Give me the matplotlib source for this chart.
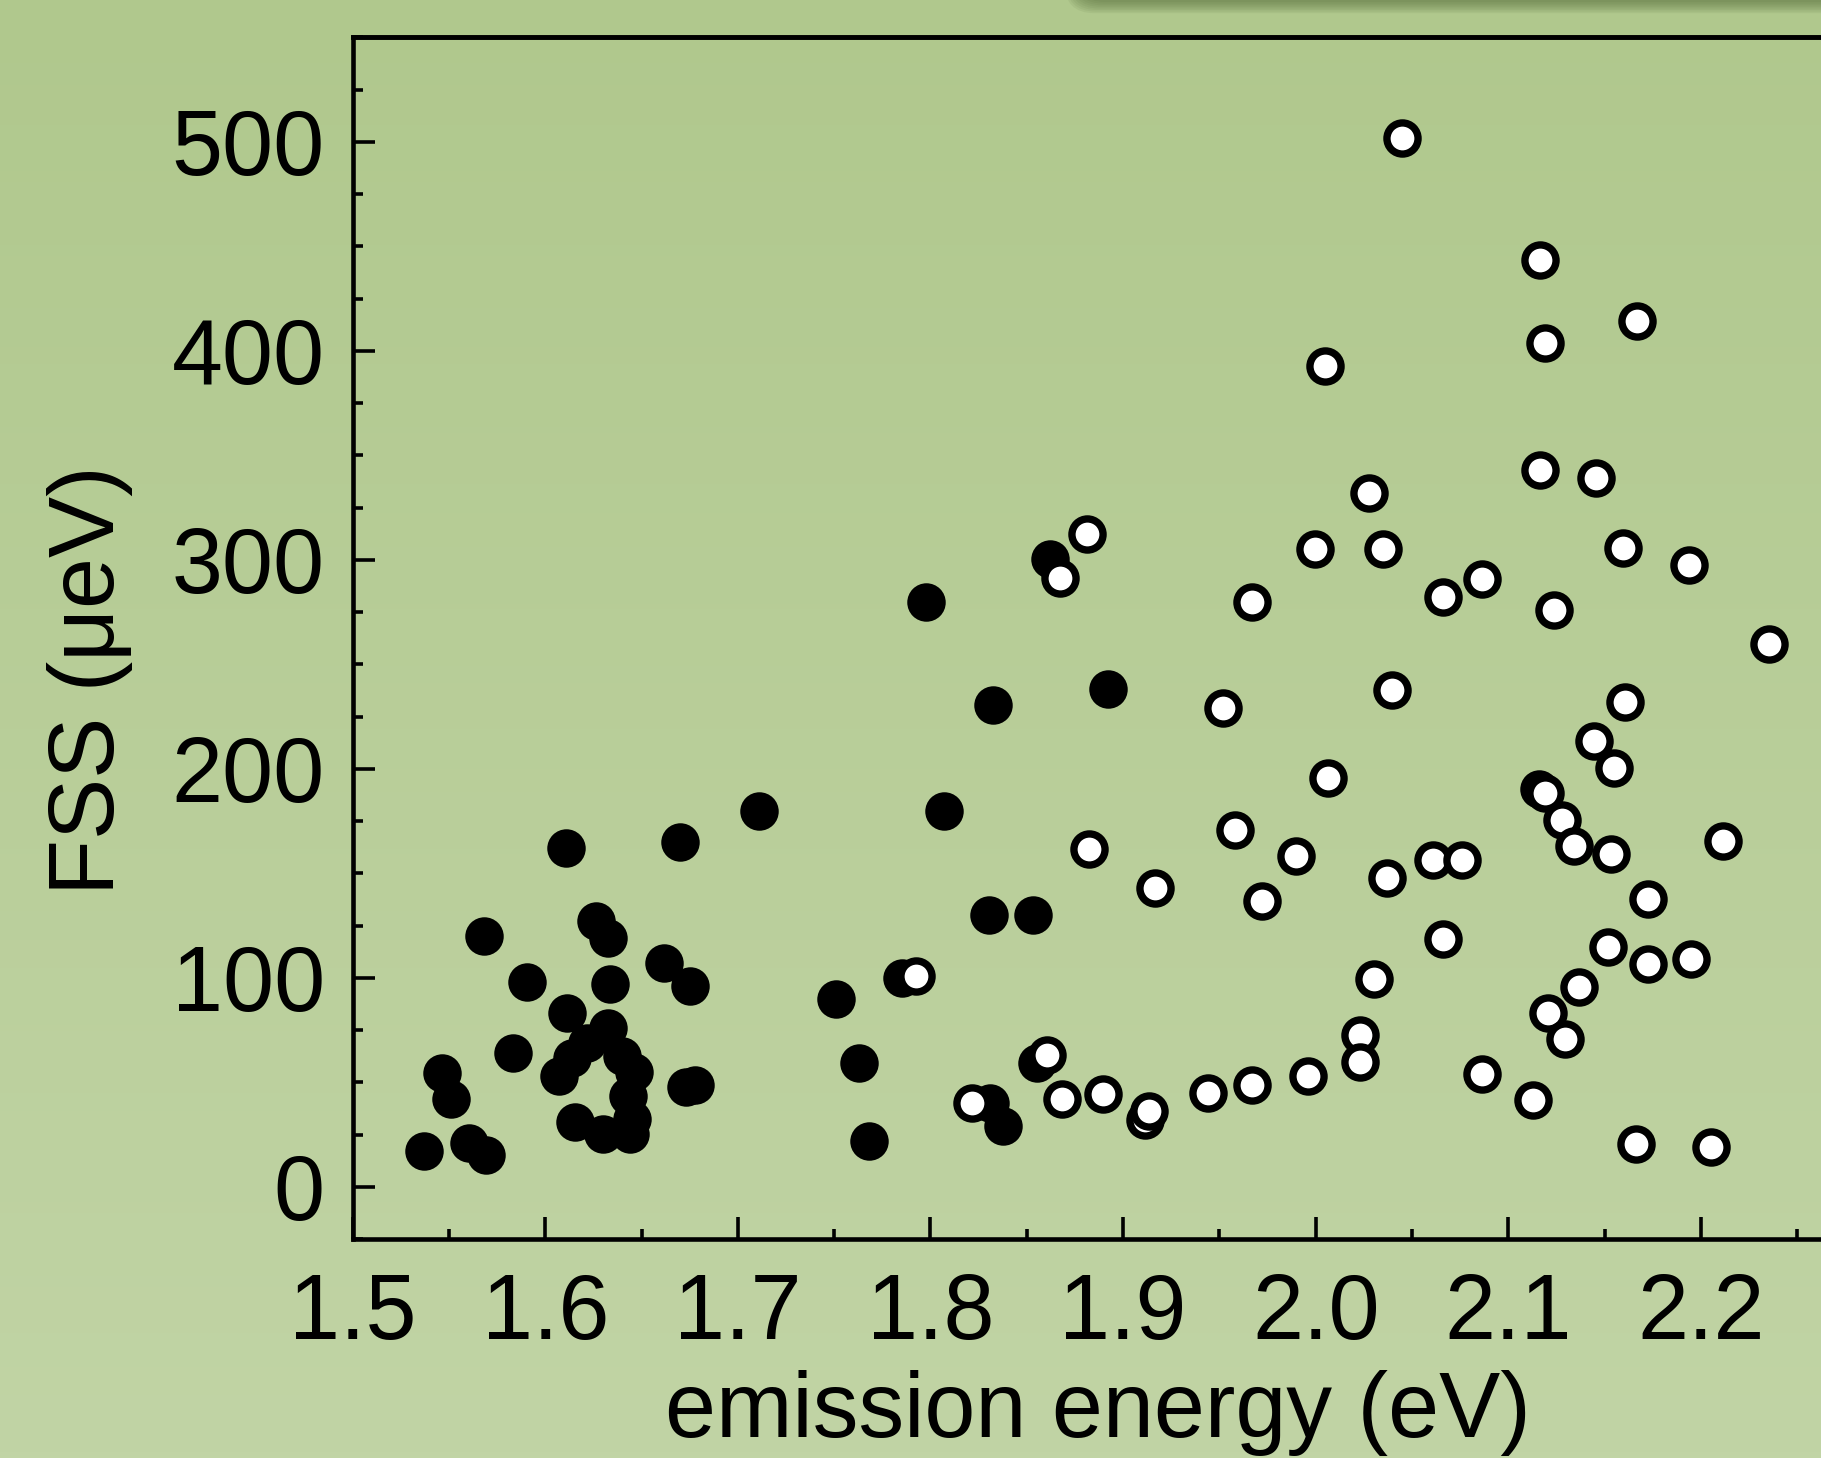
import numpy as np
import matplotlib
matplotlib.use("Agg")
from matplotlib import pyplot as plt
from matplotlib.patches import FancyBboxPatch
from matplotlib.ticker import MultipleLocator

# filled circles: (emission energy in eV, FSS in ueV)
filled_x = [1.5370, 1.5462, 1.5510, 1.5605, 1.5692, 1.5683, 1.5834, 1.5907,
            1.6108, 1.6113, 1.6073, 1.6137, 1.6215, 1.6263, 1.6324, 1.6334,
            1.6324, 1.6397, 1.6461, 1.6431, 1.6449, 1.6440, 1.6301, 1.6154,
            1.6618, 1.6701, 1.6750, 1.6731, 1.6777, 1.7111, 1.7509, 1.7629,
            1.7682, 1.7851, 1.7977, 1.8072, 1.8323, 1.8302, 1.8530, 1.8309,
            1.8378, 1.8551, 1.8621, 1.8923, 2.1161]
filled_y = [17.1, 54.3, 41.9, 21.1, 15.1, 120.2, 64.2, 98.0,
            162.1, 83.2, 53.0, 61.8, 69.0, 127.2, 119.2, 97.2,
            76.2, 62.6, 55.1, 43.4, 32.3, 25.1, 25.1, 31.0,
            107.3, 165.2, 96.1, 47.9, 49.0, 180.1, 89.9, 59.1,
            21.9, 100.1, 280.0, 180.1, 230.4, 130.0, 130.0, 40.3,
            29.1, 59.4, 300.6, 238.4, 190.2]

# open circles
open_x = [1.7923, 1.8214, 1.8603, 1.8681, 1.8672, 1.8811, 1.8825, 1.8897,
          1.9114, 1.9136, 1.9166, 1.9442, 1.9520, 1.9583, 1.9671, 1.9671,
          1.9721, 1.9896, 1.9962, 1.9998, 2.0048, 2.0065, 2.0231, 2.0231,
          2.0278, 2.0303, 2.0351, 2.0369, 2.0395, 2.0450, 2.0607, 2.0659,
          2.0659, 2.0761, 2.0862, 2.0862, 2.1126, 2.1165, 2.1165, 2.1191,
          2.1191, 2.1205, 2.1239, 2.1280, 2.1294, 2.1341, 2.1367, 2.1445,
          2.1454, 2.1519, 2.1533, 2.1549, 2.1594, 2.1606, 2.1662, 2.1670,
          2.1724, 2.1724, 2.1938, 2.1949, 2.2052, 2.2116, 2.2355]
open_y = [100.9, 40.0, 62.9, 42.2, 291.5, 312.5, 161.8, 44.3,
          32.0, 36.3, 143.2, 44.7, 229.3, 170.6, 280.0, 49.0,
          136.7, 158.3, 53.0, 305.0, 392.7, 195.8, 72.5, 59.7,
          331.8, 99.3, 305.0, 147.9, 238.0, 502.0, 156.4, 282.2,
          118.8, 156.4, 290.7, 53.8, 41.4, 443.4, 343.0, 403.6,
          188.3, 83.3, 276.0, 175.8, 70.6, 163.1, 95.8, 213.3,
          339.0, 114.7, 159.1, 200.6, 305.5, 231.8, 20.7, 414.3,
          138.0, 106.5, 297.5, 108.9, 19.2, 165.5, 259.9]

x_ticks = [1.5, 1.6, 1.7, 1.8, 1.9, 2.0, 2.1, 2.2]
x_ticklabels = ["1.5", "1.6", "1.7", "1.8", "1.9", "2.0", "2.1", "2.2"]
y_ticks = [0, 100, 200, 300, 400, 500]

plt.rcParams['font.family'] = ['Liberation Sans', 'DejaVu Sans']

W, H = 1821, 1458
fig = plt.figure(figsize=(W / 100, H / 100), dpi=100)

# green gradient background
bg = fig.add_axes([0, 0, 1, 1], zorder=-5)
top_c = np.array([176, 200, 141]) / 255
bot_c = np.array([193, 212, 165]) / 255
t = np.linspace(0, 1, 256)[:, None]
grad = (top_c[None, :] * (1 - t) + bot_c[None, :] * t)[:, None, :]
bg.imshow(grad, aspect='auto', extent=[0, W, H, 0])
# soft shadow of a box above the figure (top right)
for k in range(8):
    bg.add_patch(FancyBboxPatch((1075 - k * 1.5, -120), 900, 122 + k * 1.6,
                                boxstyle="round,pad=0,rounding_size=30",
                                facecolor=(0.33, 0.42, 0.22), edgecolor='none',
                                alpha=0.09))
bg.set_xlim(0, W)
bg.set_ylim(H, 0)
bg.axis('off')

ax = fig.add_axes([0.19368, 0.1501, 0.8180, 0.8242])
ax.set_facecolor('none')

ax.plot(filled_x, filled_y, 'o', ms=27.7, mfc='black', mec='black', mew=0,
        clip_on=False, zorder=3)
ax.plot(open_x, open_y, 'o', ms=22.4, mfc='white', mec='black', mew=5.3,
        clip_on=False, zorder=4)

ax.set_xlim(1.5, 2.2734)
ax.set_ylim(-25, 550)

ax.set_xticks(x_ticks)
ax.set_xticklabels(x_ticklabels)
ax.set_yticks(y_ticks)
ax.xaxis.set_minor_locator(MultipleLocator(0.05))
ax.yaxis.set_minor_locator(MultipleLocator(25))

ax.tick_params(which='both', direction='in', width=2.6, labelsize=66,
               top=False, right=False)
ax.tick_params(which='major', length=15.8)
ax.tick_params(which='minor', length=7.5)
ax.tick_params(axis='y', pad=20)
ax.tick_params(axis='x', pad=24)

for side in ['left', 'bottom', 'top']:
    ax.spines[side].set_linewidth(3.3)
ax.spines['right'].set_visible(False)

# tiny notches along the top frame
sec = ax.secondary_xaxis('top')
sec.xaxis.set_minor_locator(MultipleLocator(0.05))
sec.set_xticks(x_ticks)
sec.tick_params(which='both', direction='in', length=1.5, width=1.5,
                labeltop=False)
sec.spines['top'].set_linewidth(3.3)

ax.set_xlabel("emission energy (eV)", fontsize=66, va='top')
ax.xaxis.set_label_coords(0.5, -0.1088)
ax.set_ylabel("FSS (μeV)", fontsize=66)
ax.yaxis.set_label_coords(-0.1475, 0.4653)

fig.savefig("out.png", dpi=100)
